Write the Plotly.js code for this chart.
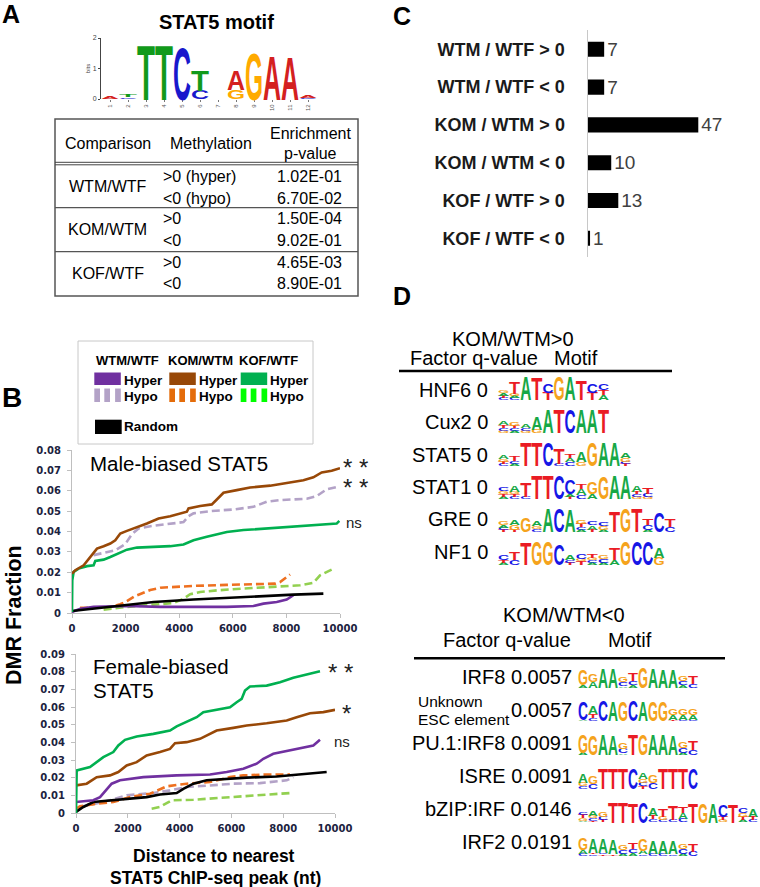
<!DOCTYPE html>
<html><head><meta charset="utf-8">
<script src="https://cdn.plot.ly/plotly-3.0.1.min.js"></script>
<style>html,body{margin:0;padding:0;background:#fff;}#chart{width:760px;height:887px;}</style>
</head><body><div id="chart"></div>
<script>
// ================= DATA =================
// Panel A: STAT5 motif logo (columns bottom->top, letter + bits)
const logoA_stat5 = ['A.06','C.05 T.08','T1.77','T1.77','C1.66','C.27 T.65','','G.3 A.62','G1.5','A1.44','A1.38','C.04 A.06'];
const logoA_positions = ['1','2','3','4','5','6','7','8','9','10','11','12'];
// Panel A table
const tableComparisons = ['WTM/WTF','KOM/WTM','KOF/WTF'];
const tableMethylation = ['>0 (hyper)','<0 (hypo)','>0','<0','>0','<0'];
const tablePvalues = ['1.02E-01','6.70E-02','1.50E-04','9.02E-01','4.65E-03','8.90E-01'];

// Panel B: legend groups
const legendGroups = ['WTM/WTF','KOM/WTM','KOF/WTF'];
const legendKinds = ['Hyper','Hypo'];
const legendRandom = 'Random';
const distTicks = [0,2000,4000,6000,8000,10000];
const distTickText = ['0','2000','4000','6000','8000','10000'];
const maleYTicks = [0,0.01,0.02,0.03,0.04,0.05,0.06,0.07,0.08];
const maleYTickText = ['0','0.01','0.02','0.03','0.04','0.05','0.06','0.07','0.08'];
const femaleYTicks = [0,0.01,0.02,0.03,0.04,0.05,0.06,0.07,0.08,0.09];
const femaleYTickText = ['0','0.01','0.02','0.03','0.04','0.05','0.06','0.07','0.08','0.09'];

// Male-biased STAT5
const male_wtm_hyper_x = [0,311,807,2050,3292,4534,5776,6770,7143,7640,8012,8261];
const male_wtm_hyper_y = [0.0005,0.0021,0.003,0.0034,0.003,0.003,0.003,0.0034,0.0046,0.0054,0.0066,0.0087];
const male_wtm_hypo_x = [807,1180,1615,1988,2236,2484,2919,3540,4161,4348,4534,5155,6025,6770,7267,7764,8758,9130,9503,9938];
const male_wtm_hypo_y = [0.0284,0.0295,0.0308,0.0338,0.0387,0.0415,0.0426,0.0436,0.0446,0.0475,0.0489,0.05,0.0508,0.0521,0.0546,0.0554,0.0561,0.0574,0.0607,0.062];
const male_kom_hyper_x = [0,124,435,683,932,1180,1429,1615,1801,2050,2422,2795,3230,3665,4286,4348,4783,5217,5404,5652,6149,6646,7391,8012,8634,9006,9317,9689,10000];
const male_kom_hyper_y = [0.0193,0.021,0.0234,0.0275,0.0316,0.0328,0.0341,0.0357,0.039,0.0403,0.042,0.0439,0.0464,0.0475,0.0497,0.0513,0.0525,0.0533,0.0557,0.059,0.0603,0.0616,0.0625,0.0639,0.0652,0.0666,0.069,0.0698,0.0711];
const male_kom_hypo_x = [300,1418,1801,2050,2350,2609,2919,3292,4534,5776,7019,7578,7764,7950,8137];
const male_kom_hypo_y = [0.0025,0.0028,0.0043,0.0058,0.0083,0.0097,0.0113,0.0124,0.0133,0.0138,0.0141,0.0144,0.0152,0.0172,0.0189];
const male_kof_hyper_x = [0,10,62,248,559,807,870,1180,1429,1739,2050,2422,3043,3665,4161,4534,5031,5404,5776,6398,7267,8261,9255,9876,9975];
const male_kof_hyper_y = [0.0005,0.016,0.0202,0.0218,0.023,0.0234,0.0256,0.0262,0.0275,0.0295,0.0311,0.0321,0.0325,0.0328,0.0336,0.0357,0.0374,0.0387,0.0398,0.0407,0.0415,0.0423,0.0431,0.0439,0.0452];
const male_kof_hypo_x = [1180,2050,3043,3789,4161,4410,4783,5404,6398,7640,8509,9006,9255,9689];
const male_kof_hypo_y = [0.0016,0.003,0.0041,0.0049,0.007,0.0092,0.0103,0.0111,0.012,0.0128,0.0136,0.0148,0.0185,0.0213];
const male_random_x = [0,807,2050,3043,4534,5776,7019,8261,9379];
const male_random_y = [0.001,0.0021,0.0038,0.0054,0.0066,0.0075,0.0082,0.009,0.0095];

// Female-biased STAT5
const female_wtm_hyper_x = [0,669,927,1184,1377,1699,2600,3887,5174,5817,6461,6976,7233,7619,8134,8777,9163,9421];
const female_wtm_hyper_y = [0.0062,0.0072,0.009,0.0137,0.0166,0.0185,0.0203,0.0213,0.0218,0.0232,0.025,0.0279,0.0307,0.0335,0.035,0.0369,0.0382,0.0414];
const female_wtm_hypo_x = [154,1313,1956,2986,3629,4273,5174,6075,7104,8134,8391];
const female_wtm_hypo_y = [0.0034,0.0072,0.01,0.0113,0.0128,0.0147,0.0156,0.0166,0.0169,0.0185,0.0203];
const female_kom_hyper_x = [0,412,798,1313,1634,1956,2342,2728,3243,3629,3822,4273,4788,5045,5431,6075,6590,7362,8134,8520,9035,9550,10000];
const female_kom_hyper_y = [0.0156,0.0166,0.0203,0.0213,0.0232,0.0269,0.0288,0.0326,0.0345,0.0363,0.0395,0.0401,0.042,0.0439,0.0467,0.0482,0.0495,0.0508,0.0524,0.0542,0.0565,0.0571,0.0584];
const female_kom_hypo_x = [0,154,798,1441,2085,2857,3501,4273,5174,5946,6461,7362,8263];
const female_kom_hypo_y = [0.0024,0.0038,0.0053,0.0062,0.009,0.0109,0.0151,0.0166,0.0175,0.0203,0.0213,0.0218,0.0218];
const female_kof_hyper_x = [0,26,540,798,1055,1441,1634,1892,2342,2986,3629,3887,4273,4659,4916,5431,5946,6203,6396,6525,6718,7362,7876,8391,8906,9421];
const female_kof_hyper_y = [0,0.0241,0.026,0.0288,0.0316,0.0345,0.0382,0.0414,0.0433,0.0448,0.0467,0.049,0.0514,0.0542,0.0571,0.0584,0.0599,0.0627,0.0646,0.0693,0.0716,0.0721,0.074,0.0765,0.0783,0.0802];
const female_kof_hypo_x = [2921,3243,3501,3694,4530,5817,7104,8263];
const female_kof_hypo_y = [0.0024,0.0034,0.0056,0.0072,0.0075,0.0087,0.01,0.0113];
const female_random_x = [0,283,669,1313,1956,2728,3243,3887,4144,4530,5045,5817,6590,7748,8649,9678];
const female_random_y = [0.0006,0.0034,0.0062,0.0072,0.0081,0.009,0.0105,0.0113,0.0137,0.0166,0.0185,0.0194,0.02,0.0207,0.0218,0.0232];
const maleSignif = ['* *','* *','ns'];
const femaleSignif = ['* *','*','ns'];

// Panel C
const barCategories = ['WTM / WTF > 0','WTM / WTF < 0','KOM / WTM > 0','KOM / WTM < 0','KOF / WTF > 0','KOF / WTF < 0'];
const barValues = [7,7,47,10,13,1];

// Panel D
const upFactors = ['HNF6','Cux2','STAT5','STAT1','GRE','NF1'];
const upQvalues = ['0','0','0','0','0','0'];
const upLogos = [
 ['C.15 T.15 A.25 G.2','C.15 A.15 G.2 T1.0','A1.9','T1.8','T.6 C.7','G1.9','A1.9','T1.6','T.6 C.7','A.4 T.4 C.5'],
 ['G.2 C.2 T.25 A.3','A.15 C.25 T.15 G.3','G.2 C.2 A.35','G.3 A1.1','A1.9','T1.9','C1.9','A1.9','A1.9','T1.9'],
 ['C.15 T.2 G.2 A.3','A.15 C.25 T.45','T1.9','T1.9','C1.9','C.15 T1.3','C.35 A.35 T.3','G.35 A.8','G1.9','A1.9','A1.9','T.15 C.2 G.3 A.4'],
 ['A.2 T.2 G.25 C.3','C.2 T.2 G.2 A.5','C.2 T1.2','T1.9','T1.9','C1.9','T.2 A.2 C1.2','C.3 A.5 T.4','A.4 G1.0','G1.8','A1.9','A1.9','G.2 C.2 T.2 A.5','G.15 C.3 T.5'],
 ['T.15 C.2 A.2 G.3','T.2 G.4 A.4','G1.2','C.25 G.25 A.4','A1.9','C1.9','A1.8','A.2 C.2 T.3 G.3','T.2 A.35 C.35','A.2 G.3 C.35','T1.7','G1.9','T1.9','A.2 C.4 T.5','C1.6','C.4 T.6'],
 ['A.2 T.2 C.45','C.4 T.6','T1.8','G1.9','G1.9','C1.7','T.2 C.25 A.45','T.3 G.2 C.45','A.2 C.2 G.2 T.3','A.2 C.3 G.3','A.4 T.9','G1.9','C1.9','C1.9','G.6 A.8']
];
const downFactors = ['IRF8','Unknown<br>ESC element','PU.1:IRF8','ISRE','bZIP:IRF','IRF2'];
const downQvalues = ['0.0057','0.0057','0.0091','0.0091','0.0146','0.0191'];
const downLogos = [
 ['A.2 G1.3','A.5 G.7','A1.7','A1.7','A.15 C.35 G.4','A.2 C.35 T.6','G1.8','A1.7','A1.6','A1.5','A.2 C.35 G.4','C.35 T.7'],
 ['A.15 C1.6','C.25 T.35 A.6','C1.8','A1.7','G1.7','C1.8','A1.7','G1.7','G1.7','T.15 A.4 G.5','C.15 A.4 G.5','C.15 A.4 G.5'],
 ['A.2 G1.6','G1.7','A1.8','A1.7','A.15 C.4 G.5','T1.8','G1.8','A1.8','A1.8','A1.7','A.2 C.4 G.5','C.4 T.8'],
 ['C.2 G.3 A.8','C.4 G.6','T1.8','T1.8','T1.8','C1.8','T.2 C.3 G.3 A.5','C.5 G.6','T1.8','T1.8','T1.8','C1.8'],
 ['A.15 G.2 T.3 C.25','T.15 C.2 G.2 A.4','T.2 C.3 G.45','T1.8','T1.8','T1.7','C1.8','C.25 T.3 A.6','C.2 G.3 T.7','C.2 T1.2','C.3 A.5 T.5','T1.7','G1.7','A1.7','G.2 T.3 C1.0','T1.5','A.2 T.3 G.3 C.45','C.2 T.3 A.6'],
 ['C.2 A.3 G1.0','C.15 T.15 A1.2','T.15 C.15 A1.2','T.15 A1.2','A.2 C.35 G.4','A.25 C.35 T.5','C.15 A.3 G1.0','C.2 A1.1','C.2 A1.1','C.15 A1.1','A.2 C.4 G.4','C.4 T.7']
];

// ================= LAYOUT HELPERS =================
const W = 760, H = 887;
const px = x => x / W, py = y => 1 - y / H;
const FONT = 'Liberation Sans, Arial, sans-serif';
const annotations = [], shapes = [], traces = [];
const letterMeta = [];
const LOGO_FS = 20;
const CAP_RATIO = 0.69;

function txt(text, x, y, o = {}) {
  annotations.push({xref:'paper', yref:'paper', x:px(x), y:py(y), text, showarrow:false,
    xanchor:o.xa || 'center', yanchor:'middle', align:o.align || 'center', textangle:o.angle || 0, borderpad:0,
    font:{family:o.family || FONT, size:o.size || 16, color:o.color || '#000', weight:o.bold ? 700 : 400}});
}
function rect(x0, y0, x1, y1, fill, line, lw) {
  shapes.push({type:'rect', xref:'paper', yref:'paper', x0:px(x0), x1:px(x1), y0:py(y1), y1:py(y0),
    fillcolor:fill || 'rgba(0,0,0,0)', line:{color:line || 'rgba(0,0,0,0)', width:lw || 0}});
}
function hline(x0, x1, y, color, width) {
  shapes.push({type:'line', xref:'paper', yref:'paper', x0:px(x0), x1:px(x1), y0:py(y), y1:py(y), line:{color, width}});
}

const layout = {
  width:W, height:H, margin:{l:0, r:0, t:0, b:0}, paper_bgcolor:'#fff', plot_bgcolor:'rgba(0,0,0,0)',
  showlegend:false, hovermode:false, bargap:0.6, font:{family:FONT, color:'#000'}
};

// logo axes + letters
function addLogo(cols, axN, left, colW, bottom, height, colors, visibleAxes) {
  const n = cols.length;
  const xn = axN === 1 ? 'xaxis' : 'xaxis' + axN, yn = axN === 1 ? 'yaxis' : 'yaxis' + axN;
  const xr = axN === 1 ? 'x' : 'x' + axN, yr = axN === 1 ? 'y' : 'y' + axN;
  layout[xn] = {domain:[px(left), px(left + n * colW)], range:[0.5, n + 0.5], anchor:yr, fixedrange:true,
    showgrid:false, zeroline:false, showline:false, visible:!!visibleAxes};
  layout[yn] = {domain:[py(bottom), py(bottom - height)], range:[0, 2], anchor:xr, fixedrange:true,
    showgrid:false, zeroline:false, visible:!!visibleAxes};
  cols.forEach((col, i) => {
    if (!col) return;
    let base = 0;
    col.split(' ').forEach(tok => {
      const L = tok[0], h = parseFloat(tok.slice(1));
      annotations.push({xref:xr, yref:yr, x:i + 1, y:base, text:L, showarrow:false, xanchor:'center', yanchor:'bottom',
        borderpad:0, font:{family:FONT, size:LOGO_FS, color:colors[L], weight:700}});
      letterMeta.push({idx:annotations.length - 1, xn, yn, x:i + 1, y0:base, h});
      base += h;
    });
  });
}

// ================= PANEL A =================
txt('A', 10.5, 14, {size:25, bold:true});
txt('STAT5 motif', 216.5, 22, {size:20, bold:true});
const colorsA = {A:'#D42020', C:'#1818CC', G:'#FFAA00', T:'#119A1A'};
addLogo(logoA_stat5, 1, 101, 18, 99, 61, colorsA, true);
Object.assign(layout.xaxis, {tickvals:logoA_positions.map(Number), ticktext:logoA_positions, tickangle:-90,
  tickfont:{size:6, color:'#555'}, ticks:'outside', ticklen:2, tickcolor:'#777'});
Object.assign(layout.yaxis, {tickvals:[0,1,2], ticktext:['0','1','2'], tickfont:{size:7, color:'#444'},
  showline:true, linecolor:'#444', linewidth:1, ticks:'outside', ticklen:2, tickcolor:'#444',
  title:{text:'bits', font:{size:6, color:'#444'}, standoff:1}});

// table
rect(55, 119, 358, 296, null, '#555', 1.5);
hline(55, 358, 162.3, '#444', 1);
hline(55, 358, 164.8, '#444', 1);
hline(55, 358, 207.7, '#555', 1.2);
hline(55, 358, 251.7, '#555', 1.2);
txt('Comparison', 107.5, 143, {size:16});
txt('Methylation', 210.5, 143, {size:16});
txt('Enrichment', 310, 133, {size:16});
txt('p-value', 310, 153, {size:16});
const compY = [186.5, 229.5, 273];
tableComparisons.forEach((c, i) => txt(c, 107.5, compY[i], {size:16}));
const rowY = [176, 198, 218.5, 240, 262, 284];
tableMethylation.forEach((m, i) => txt(m, 162, rowY[i], {size:16, xa:'left'}));
tablePvalues.forEach((p, i) => txt(p, 342.5, rowY[i], {size:16, xa:'right'}));

// ================= PANEL B =================
txt('B', 11.7, 398, {size:28, bold:true});
const COL = {purple:'#7030A0', lav:'#B3A2C7', brown:'#984807', orange:'#EE7020', green:'#00B050', lime:'#92D050', limeLeg:'#00FF00', black:'#000'};
// legend box
rect(78, 341, 313, 444, null, '#C8C8C8', 1);
const legCx = [127.7, 200.4, 268.5];
legendGroups.forEach((g, i) => txt(g, legCx[i], 360.7, {size:13, bold:true}));
const legLeft = [94.3, 169.3, 240.7];
const legHyperCol = [COL.purple, COL.brown, COL.green];
const legHypoCol = [COL.lav, '#E46C0A', COL.limeLeg];
legLeft.forEach((x0, i) => {
  rect(x0, 372.5, x0 + 26.5, 385, legHyperCol[i]);
  [0, 10, 20.8].forEach(d => rect(x0 + d, 388.5, x0 + d + 5.7, 402, legHypoCol[i]));
  txt(legendKinds[0], x0 + 28.5, 380.5, {size:13.5, bold:true, xa:'left'});
  txt(legendKinds[1], x0 + 28.5, 396, {size:13.5, bold:true, xa:'left'});
});
rect(95, 419.7, 121.7, 434, COL.black);
txt(legendRandom, 123.3, 426.5, {size:13.5, bold:true, xa:'left'});

const tickFontB = {family:'DejaVu Sans', size:10, color:'#1c2340', weight:700};
function chartAxes(n, left, right, top, bottom, yr, yt, ytt) {
  layout['xaxis' + n] = {domain:[px(left), px(right)], range:[0, 10000], anchor:'y' + n, fixedrange:true,
    tickvals:distTicks, ticktext:distTickText, showgrid:false, zeroline:false, showline:true, linecolor:'#BFBFBF', linewidth:1,
    ticks:'outside', ticklen:4, tickcolor:'#BFBFBF', tickfont:tickFontB, ticklabelstandoff:2};
  layout['yaxis' + n] = {domain:[py(bottom), py(top)], range:yr, anchor:'x' + n, fixedrange:true,
    tickvals:yt, ticktext:ytt, showgrid:false, zeroline:false, showline:true, linecolor:'#BFBFBF', linewidth:1,
    ticks:'outside', ticklen:4, tickcolor:'#BFBFBF', tickfont:tickFontB, ticklabelstandoff:4};
}
chartAxes(2, 72, 340, 450, 613, [0, 0.08], maleYTicks, maleYTickText);
chartAxes(3, 76, 335, 654, 813, [0, 0.09], femaleYTicks, femaleYTickText);

function line(x, y, color, dashed, n) {
  traces.push({type:'scatter', mode:'lines', x, y, xaxis:'x' + n, yaxis:'y' + n, cliponaxis:false,
    line:{color, width:2.6, dash:dashed ? '8px,4px' : 'solid'}});
}
line(male_wtm_hypo_x, male_wtm_hypo_y, COL.lav, true, 2);
line(male_kom_hypo_x, male_kom_hypo_y, COL.orange, true, 2);
line(male_kof_hypo_x, male_kof_hypo_y, COL.lime, true, 2);
line(male_wtm_hyper_x, male_wtm_hyper_y, COL.purple, false, 2);
line(male_random_x, male_random_y, COL.black, false, 2);
line(male_kof_hyper_x, male_kof_hyper_y, COL.green, false, 2);
line(male_kom_hyper_x, male_kom_hyper_y, COL.brown, false, 2);

line(female_wtm_hypo_x, female_wtm_hypo_y, COL.lav, true, 3);
line(female_kom_hypo_x, female_kom_hypo_y, COL.orange, true, 3);
line(female_kof_hypo_x, female_kof_hypo_y, COL.lime, true, 3);
line(female_random_x, female_random_y, COL.black, false, 3);
line(female_wtm_hyper_x, female_wtm_hyper_y, COL.purple, false, 3);
line(female_kom_hyper_x, female_kom_hyper_y, COL.brown, false, 3);
line(female_kof_hyper_x, female_kof_hyper_y, COL.green, false, 3);

txt('Male-biased STAT5', 89, 463, {size:20.5, xa:'left'});
txt('Female-biased', 91.7, 666, {size:20.5, xa:'left'});
txt('STAT5', 91.7, 690, {size:20.5, xa:'left'});
txt(maleSignif[0], 355, 467, {size:24, color:'#222'});
txt(maleSignif[1], 355, 488, {size:24, color:'#222'});
txt(maleSignif[2], 345, 522, {size:15, color:'#222', xa:'left'});
txt(femaleSignif[0], 340.8, 672, {size:24, color:'#222'});
txt(femaleSignif[1], 346.7, 713, {size:24, color:'#222'});
txt(femaleSignif[2], 333.3, 741, {size:15, color:'#222', xa:'left'});
txt('DMR Fraction', 14, 615, {size:21.5, bold:true, angle:-90});
txt('Distance to nearest', 214, 856, {size:17.5, bold:true});
txt('STAT5 ChIP-seq peak (nt)', 215, 878, {size:17.5, bold:true});

// ================= PANEL C =================
txt('C', 402.5, 16, {size:25, bold:true});
const cUnit = 2.353;
layout.xaxis4 = {domain:[px(587.7), px(587.7 + 60 * cUnit)], range:[0, 60], anchor:'y4', visible:false, fixedrange:true};
layout.yaxis4 = {domain:[py(257.2), py(30.4)], type:'category', categoryarray:barCategories, categoryorder:'array',
  range:[5.5, -0.5], anchor:'x4', showgrid:false, zeroline:false, showline:true, linecolor:'#C8C8C8', linewidth:1.2,
  ticks:'', ticklabelstandoff:18, tickfont:{family:FONT, size:18, color:'#1a1a1a', weight:700}, fixedrange:true};
traces.push({type:'bar', orientation:'h', x:barValues, y:barCategories, xaxis:'x4', yaxis:'y4',
  marker:{color:'#000'}, text:barValues.map(String), textposition:'outside', cliponaxis:false, constraintext:'none',
  textfont:{family:FONT, size:19, color:'#404040'}});

// ================= PANEL D =================
txt('D', 402, 296, {size:25, bold:true});
const colorsD = {A:'#17A846', C:'#1616E6', G:'#F5A31C', T:'#EA1C24'};
txt('KOM/WTM>0', 513, 339, {size:20});
txt('Factor q-value', 409, 358, {size:20, xa:'left'});
txt('Motif', 553, 358, {size:20, xa:'left'});
hline(399, 672, 371, '#000', 2.5);
upFactors.forEach((f, i) => {
  const y = 390 + i * 32.3;
  txt(f + ' ' + upQvalues[i], 489, y, {size:20, xa:'right'});
  addLogo(upLogos[i], 5 + i, 498, 11.1, 400 + i * 33, 24, colorsD, false);
});
txt('KOM/WTM<0', 564, 615, {size:20});
txt('Factor q-value', 441.7, 640, {size:20, xa:'left'});
txt('Motif', 606.7, 640, {size:20, xa:'left'});
hline(414, 725, 658.3, '#000', 2.5);
downFactors.forEach((f, i) => {
  const y = 677 + i * 33;
  if (f.indexOf('<br>') >= 0) {
    const parts = f.split('<br>');
    txt(parts[0], 416.7, y - 8.5, {size:15.5, xa:'left'});
    txt(parts[1], 416.7, y + 9, {size:15.5, xa:'left'});
    txt(downQvalues[i], 573, y, {size:20, xa:'right'});
  } else {
    txt(f + ' ' + downQvalues[i], 573, y, {size:20, xa:'right'});
  }
  addLogo(downLogos[i], 11 + i, 578, 10.0, 687.5 + i * 33.7, 23, colorsD, false);
});

layout.annotations = annotations;
layout.shapes = shapes;

// ================= RENDER =================
const gd = document.getElementById('chart');
Plotly.newPlot(gd, traces, layout, {staticPlot:true, displayModeBar:false}).then(() => {
  const fl = gd._fullLayout;
  letterMeta.forEach(m => {
    const g = gd.querySelector('.annotation[data-index="' + m.idx + '"]');
    if (!g) return;
    const t = g.querySelector('text.annotation-text');
    if (!t) return;
    const xa = fl[m.xn], ya = fl[m.yn];
    const Xc = xa._offset + xa.l2p(m.x);
    const Yb = ya._offset + ya.l2p(m.y0);
    const Yt = ya._offset + ya.l2p(m.y0 + m.h);
    const hpx = Math.max(Yb - Yt, 0.6);
    const wpx = xa._length / (xa.range[1] - xa.range[0]) * 1.0;
    t.removeAttribute('transform');
    const bb = t.getBBox();
    const lb = bb.y + bb.height * 0.81;
    const lx = bb.x + bb.width / 2;
    const P = t.parentNode.getCTM();
    const sx = wpx / bb.width, sy = hpx / (CAP_RATIO * LOGO_FS);
    t.setAttribute('transform', 'translate(' + (Xc - P.e) + ',' + (Yb - P.f) + ') scale(' + sx + ',' + sy + ') translate(' + (-lx) + ',' + (-lb) + ')');
  });
});
</script></body></html>
